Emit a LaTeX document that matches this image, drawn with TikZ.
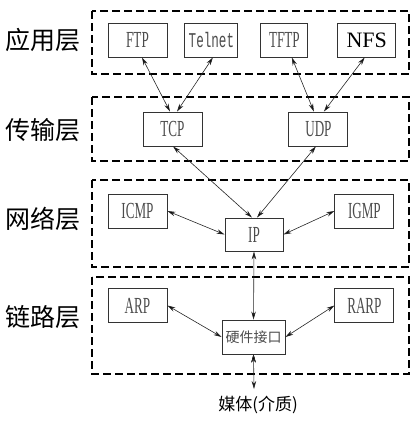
\documentclass[tikz,border=0pt]{standalone}
\usepackage{fontspec}
\setmainfont{Liberation Serif}
\newfontfamily\cjk{Noto Sans CJK SC}
\newfontfamily\narrowfont[FakeStretch=0.57]{Liberation Serif}
\newfontfamily\narrowmono[FakeStretch=0.6]{Liberation Mono}
\newfontfamily\timesfont{Liberation Serif}
\usetikzlibrary{arrows.meta,positioning}
\tikzset{
    %Define standard arrow tip
    >={Stealth[length=8pt,width=4.5pt]},
    %Define style for protocol boxes
    proto/.style={
           rectangle,
           draw=black!80, line width=0.9pt,
           minimum width=59pt,
           minimum height=34pt,
           inner sep=0pt,
           font=\narrowfont\fontsize{23}{23}\selectfont,
           text=black!70,
           text centered},
    % Define style for layer frames
    layer/.style={
           draw=black, line width=1.6pt,
           dash pattern=on 8pt off 4pt},
    % Define style for layer names
    lname/.style={
           font=\cjk\fontsize{25}{25}\selectfont},
    % Define arrow style
    pil/.style={
           <->,
           line width=0.6pt,
           draw=black!85},
}
\begin{document}
\begin{tikzpicture}[x=1pt,y=-1pt,node distance=17pt]
\useasboundingbox (0,0) rectangle (416,429);
% layer frames
\draw[layer] (92,11) rectangle (409,74);
\draw[layer] (92,97) rectangle (409,161);
\draw[layer] (92,180) rectangle (409,267);
\draw[layer] (92,277) rectangle (409,374);
% layer names
\node[lname](app) at (43,40){应用层};
\node[lname](trans) at (43,130){传输层};
\node[lname](net) at (43,219){网络层};
\node[lname](link) at (43,317){链路层};
% application layer
\node[proto](ftp) at (137.5,40){FTP};
\node[proto, minimum width=53pt, font=\narrowmono\fontsize{21}{21}\selectfont, right=17pt of ftp](telnet){Telnet};
\node[proto, minimum width=47pt, right=22pt of telnet](tftp){TFTP};
\node[proto, minimum width=58pt, font=\timesfont\fontsize{22}{22}\selectfont, text=black, right=29pt of tftp](nfs){NFS};
% transport layer
\node[proto](tcp) at (172.5,129){TCP};
\node[proto, right=86pt of tcp](udp){UDP};
% network layer
\node[proto](icmp) at (137.5,211){ICMP};
\node[proto, minimum width=58pt, minimum height=33pt](ip) at (254,234.5){IP};
\node[proto, right=167pt of icmp](igmp){IGMP};
% link layer
\node[proto](arp) at (137.5,305.5){ARP};
\node[proto, minimum width=63pt, font=\cjk\fontsize{14}{14}\selectfont](hw) at (253.5,337){硬件接口};
\node[proto, right=167pt of arp](rarp){RARP};
\node[font=\cjk\fontsize{17}{17}\selectfont, inner sep=0pt](media) at (258,405){媒体(介质)};
\coordinate (mtop) at (254,389);
\path[pil]
	([xshift=4.5pt]ftp.south) edge ([xshift=-2.5pt]tcp.north)
	([xshift=1.5pt]telnet.south) edge ([xshift=4.5pt]tcp.north)
	([xshift=7.5pt]tftp.south) edge ([xshift=-4.5pt]udp.north)
	([xshift=-2pt]nfs.south) edge ([xshift=5.5pt]udp.north)
	([xshift=0.5pt]tcp.south) edge ([xshift=-2pt]ip.north)
	([xshift=-2.5pt]udp.south) edge ([xshift=3pt]ip.north)
	(icmp.east) edge (ip.west)
	(igmp.west) edge (ip.east)
	(ip.south) edge (hw.north)
	(arp.east) edge (hw.west)
	(rarp.west) edge (hw.east)
	(hw.south) edge (mtop);
\end{tikzpicture}
\end{document}
